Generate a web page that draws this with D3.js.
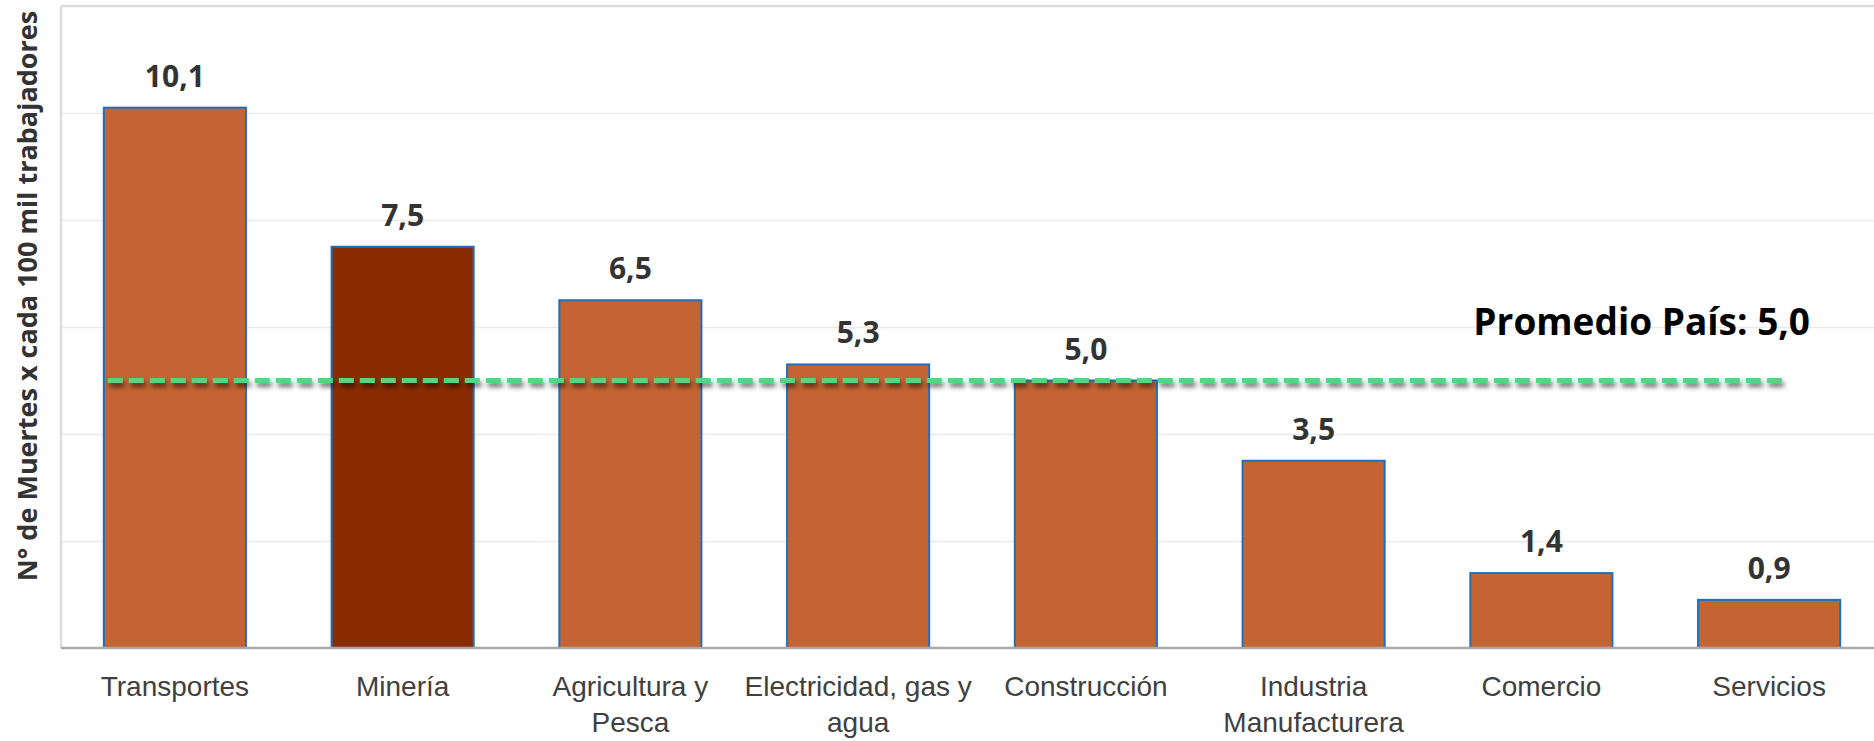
<!DOCTYPE html>
<html>
<head>
<meta charset="utf-8">
<script src="https://cdn.jsdelivr.net/npm/d3@7"></script>
<style>
  html, body { margin: 0; padding: 0; background: #fff; }
  svg { display: block; font-family: "Open Sans", sans-serif; }
</style>
</head>
<body>
<svg id="chart" width="1874" height="741"></svg>
<script>
// ---- data ----
const categories = ["Transportes", "Minería", "Agricultura y Pesca", "Electricidad, gas y agua",
                    "Construcción", "Industria Manufacturera", "Comercio", "Servicios"];
const tickLabels = [["Transportes"], ["Minería"], ["Agricultura y", "Pesca"], ["Electricidad, gas y", "agua"],
                    ["Construcción"], ["Industria", "Manufacturera"], ["Comercio"], ["Servicios"]];
const values = [10.1, 7.5, 6.5, 5.3, 5.0, 3.5, 1.4, 0.9];
const highlighted = ["Minería"];
const average = 5.0;
const averageLabel = "Promedio País: 5,0";
const yTicks = [0, 2, 4, 6, 8, 10, 12];
const yTitle = "N° de Muertes x cada 100 mil trabajadores";

// ---- layout ----
const svg = d3.select("#chart");
const mLeft = 61, mRight = 1883, mTop = 6, mBottom = 648;

const x = d3.scaleBand().domain(categories).range([mLeft, mRight]).paddingInner(0.376).paddingOuter(0.188);
const y = d3.scaleLinear().domain([0, 12]).range([mBottom, mTop]);
const fmt = v => d3.format(".1f")(v).replace(".", ",");

// shadow filter
const defs = svg.append("defs");
const f = defs.append("filter").attr("id", "shadow").attr("filterUnits", "userSpaceOnUse")
  .attr("x", 0).attr("y", 0).attr("width", 1874).attr("height", 741);
f.append("feDropShadow").attr("dx", 2).attr("dy", 4).attr("stdDeviation", 2.5)
  .attr("flood-color", "#000").attr("flood-opacity", 0.6);

// gridlines via axis
const grid = svg.append("g").attr("transform", `translate(${mLeft},0)`)
  .call(d3.axisLeft(y).tickValues(yTicks.filter(t => t > 0 && t < 12)).tickSize(-(1874 - mLeft)).tickFormat(""));
grid.select(".domain").remove();
grid.selectAll(".tick line").attr("stroke", "#e9e9e9").attr("stroke-width", 1.5);

// frame: top and left
svg.append("line").attr("x1", mLeft).attr("x2", 1874).attr("y1", y(12)).attr("y2", y(12))
  .attr("stroke", "#dcdcdc").attr("stroke-width", 2.5);
svg.append("line").attr("x1", mLeft).attr("x2", mLeft).attr("y1", y(12)).attr("y2", y(0))
  .attr("stroke", "#dcdcdc").attr("stroke-width", 2.5);

// bars
svg.append("g").selectAll("rect").data(categories).join("rect")
  .attr("x", d => x(d))
  .attr("y", (d, i) => y(values[i]))
  .attr("width", x.bandwidth())
  .attr("height", (d, i) => y(0) - y(values[i]))
  .attr("fill", d => highlighted.includes(d) ? "#8a2c02" : "#c46432")
  .attr("stroke", "#1e6fc0").attr("stroke-width", 2);

// baseline
svg.append("line").attr("x1", mLeft).attr("x2", 1874).attr("y1", y(0)).attr("y2", y(0))
  .attr("stroke", "#a9a9a9").attr("stroke-width", 2.5);

// value labels
svg.append("g").selectAll("text").data(categories).join("text")
  .attr("x", d => x(d) + x.bandwidth() / 2)
  .attr("y", (d, i) => y(values[i]) - 21)
  .attr("text-anchor", "middle")
  .attr("font-size", 30).attr("font-weight", 700).attr("fill", "#333")
  .text((d, i) => fmt(values[i]));

// average dashed line
const xStart = x(categories[0]) + 4;
const xEnd = x(categories[categories.length - 1]) + x.bandwidth() / 2 + 16;
svg.append("line")
  .attr("x1", xStart).attr("x2", xEnd).attr("y1", y(average)).attr("y2", y(average))
  .attr("stroke", "#5dd183").attr("stroke-width", 5).attr("stroke-dasharray", "15,6")
  .attr("filter", "url(#shadow)");

svg.append("text")
  .attr("x", 1810).attr("y", y(average) - 46)
  .attr("text-anchor", "end")
  .attr("font-size", 37).attr("font-weight", 700).attr("fill", "#000")
  .text(averageLabel);

// x axis labels
const xAxis = svg.append("g").attr("transform", `translate(0,${mBottom})`)
  .call(d3.axisBottom(x).tickSize(0).tickFormat(""));
xAxis.select(".domain").remove();
xAxis.selectAll(".tick").each(function(d, i) {
  const t = d3.select(this).append("text")
    .attr("text-anchor", "middle").attr("font-size", 28).attr("fill", "#404040")
    .attr("y", 48);
  tickLabels[i].forEach((line, j) => {
    t.append("tspan").attr("x", 0).attr("dy", j === 0 ? 0 : 36).text(line);
  });
});

// y title
svg.append("text")
  .attr("transform", `translate(37,296) rotate(-90)`)
  .attr("text-anchor", "middle")
  .attr("font-size", 27).attr("font-weight", 700).attr("fill", "#333")
  .text(yTitle);
</script>
</body>
</html>
